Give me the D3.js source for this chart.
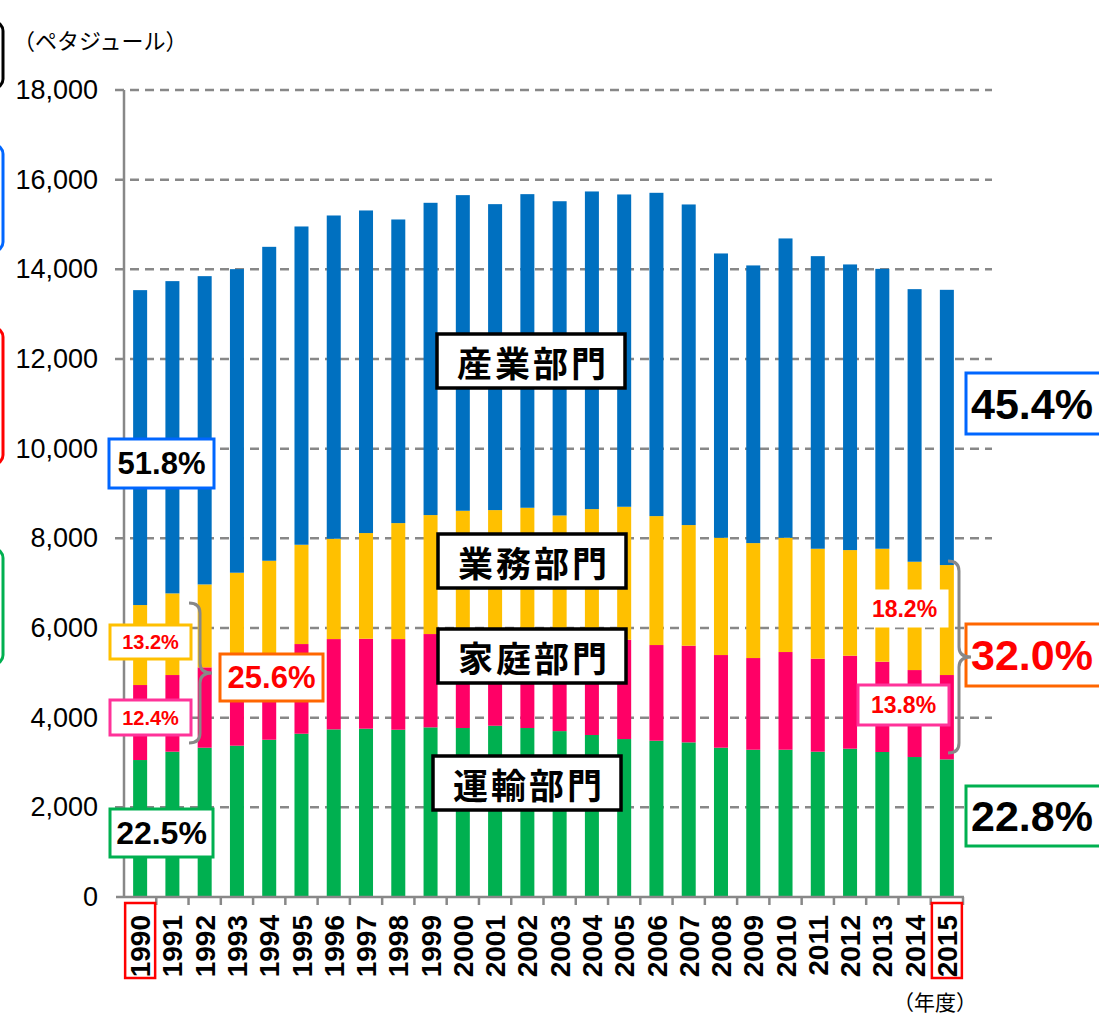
<!DOCTYPE html>
<html>
<head>
<meta charset="utf-8">
<script src="https://cdn.jsdelivr.net/npm/d3@7"></script>
<style>
  body { margin: 0; background: #fff; }
  svg { display: block; font-family: "Liberation Sans", Arial, sans-serif; }
</style>
</head>
<body>
<svg id="chart" width="1099" height="1017"></svg>
<script>
// 年度
var years = ["1990","1991","1992","1993","1994","1995","1996","1997","1998","1999","2000","2001","2002",
             "2003","2004","2005","2006","2007","2008","2009","2010","2011","2012","2013","2014","2015"];

// ペタジュール
var transport = [3055,3241,3330,3375,3508,3642,3739,3754,3731,3784,3769,3820,3769,
                 3700,3613,3523,3486,3449,3330,3285,3285,3241,3308,3234,3122,3070];
var household = [1673,1710,1792,1895,1912,2000,2014,2006,2022,2081,2111,2040,2131,
                 2121,2187,2215,2134,2156,2067,2045,2179,2074,2074,2014,1940,1881];
var business  = [1784,1821,1850,1963,2080,2215,2238,2358,2587,2654,2735,2770,2782,
                 2689,2852,2966,2876,2691,2616,2564,2549,2453,2356,2520,2416,2453];
var industry  = [7024,6965,6876,6771,7002,7099,7210,7195,6772,6965,7040,6824,6995,
                 7009,7085,6966,7211,7151,6341,6193,6676,6526,6371,6243,6080,6139];

var sectors = ["運輸部門","家庭部門","業務部門","産業部門"];
var colors = ["#00B050","#FF0066","#FFC000","#0070C0"];
var yTicks = [0,2000,4000,6000,8000,10000,12000,14000,16000,18000];

var rows = years.map((y, i) => ({
    year: y,
    "運輸部門": transport[i],
    "家庭部門": household[i],
    "業務部門": business[i],
    "産業部門": industry[i]
}));

var svg = d3.select("#chart");

var x = d3.scaleBand()
    .domain(years)
    .range([124, 963])
    .paddingInner(0.566)
    .paddingOuter(0.283);

var y = d3.scaleLinear()
    .domain([0, 18000])
    .range([897, 90]);

// dashed gridlines
svg.append("g")
    .selectAll("line")
    .data(yTicks.slice(1))
    .enter()
    .append("line")
    .attr("x1", 115)
    .attr("x2", 992)
    .attr("y1", d => y(d))
    .attr("y2", d => y(d))
    .attr("stroke", "#888")
    .attr("stroke-width", 2.5)
    .attr("stroke-dasharray", "9,6");

// y labels
var yAxis = svg.append("g")
    .attr("transform", "translate(124,0)")
    .call(d3.axisLeft(y).tickValues(yTicks).tickFormat(d3.format(",")).tickSize(0).tickPadding(26));
yAxis.select(".domain").remove();
yAxis.selectAll("text")
    .attr("font-size", 27)
    .attr("fill", "#000")
    .attr("font-family", "Liberation Sans, Arial, sans-serif");

// stacked bars
var stack = d3.stack().keys(sectors)(rows);

svg.append("g")
    .selectAll("g")
    .data(stack)
    .enter()
    .append("g")
    .attr("fill", (d, i) => colors[i])
    .selectAll("rect")
    .data(d => d)
    .enter()
    .append("rect")
    .attr("x", d => x(d.data.year))
    .attr("width", x.bandwidth())
    .attr("y", d => y(d[1]))
    .attr("height", d => y(d[0]) - y(d[1]));

// axes lines
svg.append("line")
    .attr("x1", 124).attr("x2", 124)
    .attr("y1", y(18000)).attr("y2", y(0))
    .attr("stroke", "#888").attr("stroke-width", 2.5);
svg.append("line")
    .attr("x1", 116).attr("x2", 964)
    .attr("y1", y(0)).attr("y2", y(0))
    .attr("stroke", "#888").attr("stroke-width", 2.5);

// category boundary ticks
svg.append("g")
    .selectAll("line")
    .data(years)
    .enter()
    .append("line")
    .attr("x1", d => x(d) + x.step() * 0.717)
    .attr("x2", d => x(d) + x.step() * 0.717)
    .attr("y1", y(0))
    .attr("y2", y(0) + 8)
    .attr("stroke", "#888")
    .attr("stroke-width", 2.5);

// year labels, vertical
svg.append("g")
    .selectAll("text")
    .data(years)
    .enter()
    .append("text")
    .attr("transform", d => `translate(${x(d) + x.bandwidth() / 2}, 915) rotate(-90)`)
    .attr("text-anchor", "end")
    .attr("dy", "0.36em")
    .attr("font-size", 28)
    .attr("font-weight", "bold")
    .attr("fill", "#000")
    .text(d => d);

// red marks on first and last year
[years[0], years[years.length - 1]].forEach(yr => {
    svg.append("rect")
        .attr("x", x(yr) + x.bandwidth() / 2 - 15)
        .attr("y", 903)
        .attr("width", 30)
        .attr("height", 75)
        .attr("fill", "none")
        .attr("stroke", "#FF0000")
        .attr("stroke-width", 2.5);
});

// unit labels
svg.append("text")
    .attr("x", 13).attr("y", 49)
    .attr("font-family", "Noto Sans CJK JP")
    .attr("font-size", 22)
    .text("（ペタジュール）");
svg.append("text")
    .attr("x", 893).attr("y", 1010)
    .attr("font-family", "Noto Sans CJK JP")
    .attr("font-size", 21)
    .text("（年度）");

// cut-off legend frames at left edge
var edgeFrames = [
    {y0: 22, y1: 88, c: "#000000"},
    {y0: 145, y1: 251, c: "#0066FF"},
    {y0: 328, y1: 464, c: "#FF0000"},
    {y0: 549, y1: 664, c: "#00B050"}
];
svg.append("g")
    .selectAll("rect")
    .data(edgeFrames)
    .enter()
    .append("rect")
    .attr("x", -100)
    .attr("width", 103)
    .attr("y", d => d.y0)
    .attr("height", d => d.y1 - d.y0)
    .attr("rx", 9)
    .attr("fill", "none")
    .attr("stroke", d => d.c)
    .attr("stroke-width", 3);

// sector name boxes
function nameBox(label, x0, y0) {
    var g = svg.append("g");
    g.append("rect")
        .attr("x", x0).attr("y", y0)
        .attr("width", 188).attr("height", 54)
        .attr("fill", "#fff")
        .attr("stroke", "#000")
        .attr("stroke-width", 3.5);
    g.append("text")
        .attr("x", x0 + 94 + 2).attr("y", y0 + 27)
        .attr("text-anchor", "middle")
        .attr("dominant-baseline", "central")
        .attr("font-family", "Noto Sans CJK JP")
        .attr("font-weight", "bold")
        .attr("font-size", 35)
        .attr("letter-spacing", 3)
        .text(label);
}
nameBox("産業部門", 437, 334);
nameBox("業務部門", 438, 534);
nameBox("家庭部門", 438, 629);
nameBox("運輸部門", 433, 756);

// share boxes
function shareBox(txt, x0, y0, w, h, stroke, color, size, tx) {
    var g = svg.append("g");
    g.append("rect")
        .attr("x", x0).attr("y", y0)
        .attr("width", w).attr("height", h)
        .attr("fill", "#fff")
        .attr("stroke", stroke)
        .attr("stroke-width", 3);
    g.append("text")
        .attr("x", tx != null ? tx : x0 + w / 2)
        .attr("y", y0 + h / 2)
        .attr("text-anchor", tx != null ? "start" : "middle")
        .attr("dominant-baseline", "central")
        .attr("font-size", size)
        .attr("font-weight", "bold")
        .attr("fill", color)
        .text(txt);
}
shareBox("51.8%", 109, 439, 105, 49, "#0066FF", "#000", 31);
shareBox("13.2%", 110, 625, 81, 34, "#FFC000", "#FF0000", 20);
shareBox("12.4%", 110, 700, 81, 35, "#FF3399", "#FF0000", 20);
shareBox("25.6%", 220, 654, 103, 47, "#FF6600", "#FF0000", 31);
shareBox("22.5%", 110, 809, 103, 48, "#00B050", "#000", 32);
shareBox("18.2%", 862, 591, 85, 35, "#fff", "#FF0000", 23);
shareBox("13.8%", 858, 685, 91, 40, "#FF3399", "#FF0000", 23);
shareBox("45.4%", 966, 373, 150, 61, "#0066FF", "#000", 43, 971);
shareBox("32.0%", 966, 624, 150, 62, "#FF6600", "#FF0000", 43, 971);
shareBox("22.8%", 966, 786, 150, 60, "#00B050", "#000", 43, 971);

// braces
function brace(xl, xm, xt, top, mid, bot) {
    var p = `M${xl},${top} Q${xm},${top} ${xm},${top + 10} L${xm},${mid - 10} Q${xm},${mid} ${xt},${mid}`
          + ` Q${xm},${mid} ${xm},${mid + 10} L${xm},${bot - 10} Q${xm},${bot} ${xl},${bot}`;
    svg.append("path")
        .attr("d", p)
        .attr("fill", "none")
        .attr("stroke", "#888")
        .attr("stroke-width", 3);
}
brace(189, 200, 212, 603, 673, 743);
brace(948, 959, 971, 561, 657, 753);
</script>
</body>
</html>
